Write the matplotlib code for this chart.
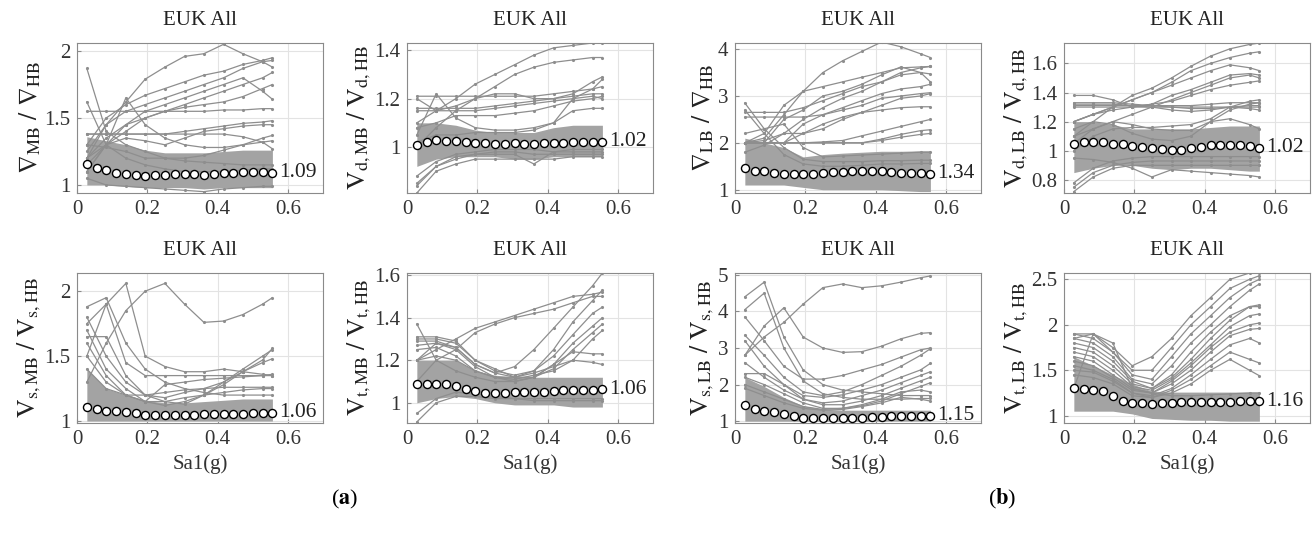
import matplotlib
matplotlib.use("Agg")
import matplotlib.pyplot as plt

plt.rcParams.update({
    "font.family": ["Liberation Serif", "DejaVu Serif"],
    "mathtext.fontset": "stix",
    "font.size": 15,
    "axes.edgecolor": "#8a8a8a",
    "axes.linewidth": 0.8,
    "xtick.color": "#8a8a8a",
    "ytick.color": "#8a8a8a",
    "xtick.labelcolor": "#333333",
    "ytick.labelcolor": "#333333",
})

LINE = "#8e8e8e"
BAND = "#a3a3a3"
GRID = "#e3e3e3"

# Sa1 levels of the median points (g)
SA = [0.028, 0.056, 0.083, 0.111, 0.139, 0.167, 0.194, 0.222, 0.250, 0.278,
      0.306, 0.333, 0.361, 0.389, 0.417, 0.444, 0.472, 0.500, 0.528, 0.556]
# Sa1 levels used for the individual building curves
SA_CURVE = [0.028, 0.083, 0.139, 0.194, 0.250, 0.306, 0.361, 0.417, 0.472, 0.528, 0.556]

# ---- (a) MB / HB ----------------------------------------------------------
nabla_mb_median = [1.155, 1.13, 1.108, 1.09, 1.083, 1.072, 1.068, 1.073, 1.077, 1.081,
                   1.084, 1.082, 1.077, 1.079, 1.086, 1.092, 1.099, 1.097, 1.094, 1.09]
nabla_mb_band_lo = [1.00, 1.00, 0.99, 0.98, 0.98, 0.98, 0.97, 0.98, 0.98, 0.98, 0.98]
nabla_mb_band_hi = [1.36, 1.33, 1.30, 1.26, 1.24, 1.24, 1.24, 1.25, 1.26, 1.26, 1.26]
nabla_mb_curves = [
    [1.20, 1.45, 1.62, 1.79, 1.88, 1.96, 1.98, 2.05, 1.98, 1.92, 1.88],
    [1.87, 1.40, 1.30, 1.25, 1.20, 1.18, 1.17, 1.16, 1.15, 1.15, 1.15],
    [1.55, 1.55, 1.55, 1.55, 1.55, 1.55, 1.55, 1.56, 1.56, 1.57, 1.57],
    [1.30, 1.50, 1.60, 1.67, 1.72, 1.77, 1.82, 1.85, 1.90, 1.93, 1.95],
    [1.25, 1.45, 1.55, 1.60, 1.65, 1.70, 1.75, 1.80, 1.87, 1.92, 1.93],
    [1.10, 1.30, 1.45, 1.55, 1.60, 1.65, 1.70, 1.75, 1.80, 1.70, 1.64],
    [1.20, 1.35, 1.45, 1.50, 1.55, 1.60, 1.65, 1.70, 1.75, 1.80, 1.84],
    [1.15, 1.30, 1.40, 1.50, 1.55, 1.58, 1.60, 1.62, 1.66, 1.72, 1.75],
    [1.10, 1.30, 1.65, 1.45, 1.35, 1.30, 1.28, 1.28, 1.30, 1.32, 1.33],
    [1.38, 1.38, 1.38, 1.38, 1.38, 1.40, 1.42, 1.44, 1.46, 1.47, 1.48],
    [1.20, 1.30, 1.35, 1.33, 1.30, 1.35, 1.40, 1.42, 1.44, 1.45, 1.45],
    [1.38, 1.38, 1.38, 1.38, 1.38, 1.38, 1.38, 1.38, 1.36, 1.32, 1.27],
    [1.30, 1.28, 1.25, 1.20, 1.20, 1.20, 1.22, 1.26, 1.30, 1.35, 1.37],
    [1.62, 1.30, 1.20, 1.15, 1.12, 1.10, 1.10, 1.10, 1.11, 1.12, 1.12],
    [1.05, 1.00, 0.99, 0.98, 0.97, 0.96, 0.95, 0.97, 0.98, 0.99, 0.99],
]

vd_mb_median = [1.007, 1.02, 1.028, 1.025, 1.023, 1.02, 1.017, 1.017, 1.012, 1.012,
                1.015, 1.012, 1.011, 1.015, 1.017, 1.018, 1.019, 1.02, 1.022, 1.022]
vd_mb_band_lo = [0.92, 0.95, 0.96, 0.96, 0.96, 0.95, 0.95, 0.96, 0.96, 0.96, 0.96]
vd_mb_band_hi = [1.10, 1.10, 1.09, 1.07, 1.06, 1.06, 1.06, 1.08, 1.09, 1.09, 1.09]
vd_mb_curves = [
    [1.20, 1.15, 1.20, 1.26, 1.30, 1.34, 1.38, 1.41, 1.42, 1.43, 1.43],
    [1.10, 1.15, 1.17, 1.20, 1.25, 1.30, 1.33, 1.35, 1.36, 1.37, 1.37],
    [1.21, 1.21, 1.21, 1.21, 1.21, 1.21, 1.21, 1.22, 1.23, 1.24, 1.25],
    [1.16, 1.16, 1.16, 1.16, 1.17, 1.18, 1.19, 1.20, 1.21, 1.22, 1.22],
    [1.15, 1.15, 1.15, 1.15, 1.16, 1.17, 1.18, 1.19, 1.20, 1.21, 1.20],
    [1.00, 1.08, 1.15, 1.20, 1.22, 1.22, 1.20, 1.20, 1.22, 1.27, 1.29],
    [1.05, 1.22, 1.12, 1.08, 1.07, 1.07, 1.08, 1.10, 1.20, 1.24, 1.28],
    [1.02, 1.05, 1.05, 1.06, 1.06, 1.06, 1.07, 1.10, 1.15, 1.16, 1.16],
    [1.08, 1.10, 1.13, 1.13, 1.13, 1.14, 1.15, 1.17, 1.19, 1.20, 1.21],
    [0.81, 0.90, 0.93, 0.95, 0.95, 0.95, 0.95, 0.95, 0.96, 0.96, 0.96],
    [0.85, 0.92, 0.95, 0.97, 0.98, 0.98, 0.97, 0.97, 0.97, 0.97, 0.97],
    [0.88, 0.94, 0.97, 0.98, 0.99, 0.99, 0.99, 0.98, 0.98, 0.98, 0.98],
    [0.84, 0.92, 0.96, 0.97, 0.97, 0.97, 0.93, 0.98, 0.99, 0.99, 0.99],
]

vs_mb_median = [1.108, 1.09, 1.08, 1.077, 1.072, 1.06, 1.049, 1.044, 1.044, 1.044,
                1.049, 1.049, 1.052, 1.052, 1.054, 1.054, 1.057, 1.06, 1.062, 1.064]
vs_mb_band_lo = [1.00, 1.00, 1.00, 1.00, 1.00, 1.00, 1.00, 1.00, 1.00, 1.00, 1.00]
vs_mb_band_hi = [1.40, 1.25, 1.20, 1.16, 1.14, 1.14, 1.15, 1.16, 1.17, 1.17, 1.17]
vs_mb_curves = [
    [1.30, 1.60, 1.85, 2.00, 2.06, 1.90, 1.76, 1.77, 1.82, 1.90, 1.95],
    [1.50, 1.90, 2.06, 1.50, 1.42, 1.38, 1.38, 1.40, 1.38, 1.36, 1.35],
    [1.88, 1.95, 1.60, 1.40, 1.30, 1.25, 1.22, 1.20, 1.20, 1.20, 1.20],
    [1.75, 1.90, 1.45, 1.35, 1.35, 1.35, 1.35, 1.35, 1.35, 1.35, 1.36],
    [1.65, 1.65, 1.35, 1.20, 1.18, 1.22, 1.25, 1.30, 1.38, 1.47, 1.56],
    [1.80, 1.50, 1.30, 1.20, 1.15, 1.13, 1.20, 1.30, 1.40, 1.50, 1.55],
    [1.70, 1.40, 1.25, 1.15, 1.12, 1.15, 1.20, 1.28, 1.38, 1.45, 1.48],
    [1.50, 1.30, 1.20, 1.15, 1.28, 1.30, 1.32, 1.33, 1.34, 1.35, 1.35],
    [1.40, 1.25, 1.20, 1.20, 1.22, 1.24, 1.25, 1.26, 1.26, 1.26, 1.26],
    [1.60, 1.35, 1.20, 1.15, 1.15, 1.18, 1.20, 1.22, 1.24, 1.25, 1.25],
]

vt_mb_median = [1.088, 1.09, 1.09, 1.088, 1.078, 1.063, 1.056, 1.048, 1.048, 1.048,
                1.05, 1.05, 1.052, 1.053, 1.055, 1.058, 1.059, 1.061, 1.062, 1.064]
vt_mb_band_lo = [1.00, 1.02, 1.03, 1.02, 1.00, 0.99, 0.99, 0.99, 0.98, 0.98, 0.98]
vt_mb_band_hi = [1.20, 1.20, 1.20, 1.15, 1.13, 1.12, 1.12, 1.12, 1.12, 1.12, 1.12]
vt_mb_curves = [
    [1.20, 1.25, 1.30, 1.35, 1.38, 1.41, 1.44, 1.47, 1.50, 1.51, 1.52],
    [1.10, 1.20, 1.25, 1.33, 1.37, 1.40, 1.42, 1.44, 1.47, 1.50, 1.50],
    [1.20, 1.28, 1.26, 1.18, 1.14, 1.17, 1.25, 1.35, 1.45, 1.55, 1.61],
    [1.31, 1.31, 1.29, 1.20, 1.15, 1.13, 1.15, 1.25, 1.38, 1.48, 1.53],
    [1.30, 1.30, 1.28, 1.20, 1.16, 1.12, 1.15, 1.22, 1.32, 1.42, 1.45],
    [1.29, 1.29, 1.26, 1.18, 1.14, 1.12, 1.12, 1.18, 1.28, 1.36, 1.40],
    [1.27, 1.28, 1.25, 1.17, 1.12, 1.10, 1.12, 1.16, 1.25, 1.33, 1.37],
    [1.25, 1.26, 1.22, 1.15, 1.12, 1.11, 1.13, 1.15, 1.20, 1.30, 1.34],
    [1.37, 1.20, 1.15, 1.12, 1.10, 1.10, 1.12, 1.18, 1.24, 1.23, 1.23],
    [1.20, 1.22, 1.20, 1.15, 1.12, 1.12, 1.14, 1.17, 1.20, 1.19, 1.18],
    [0.91, 1.00, 1.03, 1.03, 1.02, 1.02, 1.02, 1.02, 1.02, 1.02, 1.02],
    [0.95, 1.02, 1.05, 1.04, 1.03, 1.02, 1.01, 1.01, 1.01, 1.01, 1.01],
]

# ---- (b) LB / HB ----------------------------------------------------------
nabla_lb_median = [1.47, 1.40, 1.39, 1.36, 1.34, 1.33, 1.33, 1.34, 1.36, 1.37,
                   1.37, 1.39, 1.39, 1.39, 1.40, 1.38, 1.36, 1.36, 1.35, 1.34]
nabla_lb_band_lo = [1.10, 1.10, 1.10, 1.05, 1.00, 1.00, 1.00, 1.00, 0.98, 0.96, 0.96]
nabla_lb_band_hi = [2.10, 2.00, 1.90, 1.70, 1.75, 1.78, 1.80, 1.82, 1.82, 1.83, 1.83]
nabla_lb_curves = [
    [2.00, 2.20, 2.80, 3.10, 3.50, 3.75, 3.95, 4.15, 4.05, 3.90, 3.82],
    [2.00, 2.10, 2.60, 3.10, 3.20, 3.30, 3.40, 3.50, 3.60, 3.62, 3.63],
    [2.00, 2.00, 2.50, 2.70, 3.00, 3.10, 3.25, 3.45, 3.62, 3.50, 3.30],
    [2.00, 2.05, 2.20, 2.50, 2.75, 2.95, 3.10, 3.30, 3.45, 3.50, 3.47],
    [2.65, 2.65, 2.65, 2.75, 2.90, 3.05, 3.20, 3.30, 3.50, 3.60, 3.63],
    [2.55, 2.55, 2.55, 2.55, 2.60, 2.75, 2.90, 3.05, 3.15, 3.20, 3.25],
    [2.00, 2.00, 2.00, 2.40, 2.60, 2.70, 2.80, 2.95, 3.00, 3.05, 3.07],
    [1.80, 1.95, 2.20, 2.20, 2.30, 2.50, 2.65, 2.80, 2.95, 3.00, 3.05],
    [2.00, 2.00, 2.00, 2.20, 2.40, 2.55, 2.65, 2.70, 2.75, 2.77, 2.77],
    [2.00, 2.00, 2.00, 2.00, 2.02, 2.05, 2.15, 2.25, 2.35, 2.45, 2.50],
    [2.00, 2.00, 2.00, 2.00, 2.00, 2.00, 2.00, 2.08, 2.18, 2.26, 2.28],
    [2.00, 2.00, 2.00, 2.00, 2.00, 2.00, 2.00, 2.05, 2.12, 2.18, 2.20],
    [2.85, 2.30, 1.90, 1.65, 1.60, 1.60, 1.60, 1.62, 1.62, 1.63, 1.63],
    [2.70, 2.20, 1.75, 1.55, 1.50, 1.50, 1.52, 1.55, 1.55, 1.56, 1.56],
    [2.20, 2.30, 2.40, 1.90, 1.70, 1.72, 1.74, 1.76, 1.78, 1.80, 1.80],
]

vd_lb_median = [1.044, 1.062, 1.06, 1.057, 1.048, 1.044, 1.032, 1.023, 1.016, 1.011,
                1.005, 1.007, 1.016, 1.028, 1.037, 1.039, 1.039, 1.037, 1.032, 1.022]
vd_lb_band_lo = [0.85, 0.88, 0.90, 0.90, 0.88, 0.87, 0.88, 0.88, 0.87, 0.86, 0.86]
vd_lb_band_hi = [1.20, 1.20, 1.18, 1.15, 1.15, 1.15, 1.15, 1.16, 1.17, 1.17, 1.17]
vd_lb_curves = [
    [1.20, 1.25, 1.30, 1.38, 1.43, 1.50, 1.58, 1.65, 1.70, 1.73, 1.74],
    [1.20, 1.25, 1.30, 1.35, 1.40, 1.47, 1.55, 1.60, 1.64, 1.67, 1.68],
    [1.10, 1.20, 1.30, 1.35, 1.40, 1.45, 1.50, 1.55, 1.59, 1.57, 1.55],
    [1.38, 1.38, 1.35, 1.30, 1.32, 1.38, 1.42, 1.47, 1.52, 1.53, 1.52],
    [1.10, 1.15, 1.20, 1.25, 1.30, 1.35, 1.40, 1.45, 1.50, 1.52, 1.50],
    [1.20, 1.25, 1.28, 1.30, 1.32, 1.34, 1.38, 1.42, 1.45, 1.47, 1.48],
    [1.33, 1.33, 1.33, 1.32, 1.31, 1.31, 1.31, 1.32, 1.33, 1.33, 1.33],
    [1.30, 1.30, 1.30, 1.30, 1.30, 1.30, 1.30, 1.30, 1.30, 1.31, 1.31],
    [1.32, 1.32, 1.32, 1.31, 1.30, 1.28, 1.27, 1.28, 1.30, 1.29, 1.28],
    [1.31, 1.31, 1.31, 1.31, 1.31, 1.30, 1.29, 1.29, 1.30, 1.30, 1.30],
    [1.00, 1.10, 1.15, 1.16, 1.16, 1.17, 1.18, 1.22, 1.30, 1.34, 1.35],
    [1.05, 1.15, 1.20, 1.18, 1.15, 1.14, 1.14, 1.20, 1.28, 1.32, 1.33],
    [0.72, 0.82, 0.88, 0.90, 0.90, 0.90, 0.90, 0.90, 0.90, 0.90, 0.90],
    [0.75, 0.85, 0.90, 0.92, 0.93, 0.93, 0.93, 0.93, 0.93, 0.93, 0.93],
    [0.78, 0.88, 0.93, 0.95, 0.96, 0.96, 0.96, 0.96, 0.96, 0.96, 0.96],
    [0.95, 0.94, 0.92, 0.88, 0.82, 0.87, 0.86, 0.85, 0.84, 0.83, 0.82],
    [1.15, 1.20, 1.18, 1.12, 1.08, 1.07, 1.10, 1.20, 1.22, 1.18, 1.15],
]

vs_lb_median = [1.435, 1.32, 1.28, 1.25, 1.19, 1.14, 1.09, 1.074, 1.074, 1.074,
                1.083, 1.09, 1.10, 1.11, 1.12, 1.13, 1.14, 1.14, 1.146, 1.15]
vs_lb_band_lo = [1.00, 1.00, 1.00, 1.00, 1.00, 1.00, 1.00, 1.00, 1.00, 1.00, 1.00]
vs_lb_band_hi = [2.20, 1.95, 1.65, 1.42, 1.33, 1.30, 1.30, 1.30, 1.30, 1.30, 1.30]
vs_lb_curves = [
    [2.80, 3.30, 3.70, 4.20, 4.65, 4.75, 4.65, 4.70, 4.80, 4.92, 4.97],
    [4.40, 4.80, 3.30, 2.40, 2.00, 1.85, 1.80, 1.75, 1.70, 1.70, 1.70],
    [4.05, 4.50, 3.00, 2.10, 1.75, 1.65, 1.60, 1.60, 1.60, 1.62, 1.62],
    [2.80, 3.60, 4.10, 3.30, 3.00, 2.88, 2.90, 3.05, 3.25, 3.40, 3.42],
    [3.85, 3.20, 2.50, 2.15, 2.15, 2.25, 2.40, 2.55, 2.75, 2.95, 3.00],
    [3.35, 2.80, 2.20, 1.80, 1.70, 1.80, 2.00, 2.25, 2.50, 2.80, 2.98],
    [3.20, 2.50, 2.00, 1.70, 1.65, 1.72, 1.85, 2.00, 2.20, 2.40, 2.58],
    [2.60, 2.20, 1.85, 1.60, 1.50, 1.55, 1.70, 1.85, 2.05, 2.25, 2.35],
    [2.30, 2.30, 2.00, 1.60, 1.45, 1.45, 1.55, 1.70, 1.90, 2.10, 2.20],
    [2.20, 2.00, 1.75, 1.50, 1.35, 1.35, 1.42, 1.55, 1.75, 1.95, 2.05],
    [2.00, 1.80, 1.60, 1.40, 1.32, 1.35, 1.45, 1.60, 1.80, 1.85, 1.80],
    [1.90, 1.70, 1.50, 1.35, 1.30, 1.32, 1.40, 1.50, 1.65, 1.60, 1.55],
]

vt_lb_median = [1.30, 1.292, 1.28, 1.27, 1.22, 1.16, 1.142, 1.135, 1.128, 1.135,
                1.142, 1.146, 1.15, 1.153, 1.153, 1.153, 1.153, 1.157, 1.157, 1.158]
vt_lb_band_lo = [1.05, 1.05, 1.05, 1.02, 0.97, 0.96, 0.95, 0.95, 0.94, 0.94, 0.94]
vt_lb_band_hi = [1.65, 1.55, 1.45, 1.35, 1.27, 1.26, 1.26, 1.26, 1.26, 1.26, 1.26]
vt_lb_curves = [
    [1.90, 1.90, 1.75, 1.55, 1.65, 1.85, 2.10, 2.30, 2.50, 2.57, 2.57],
    [1.90, 1.85, 1.70, 1.50, 1.50, 1.75, 2.00, 2.20, 2.40, 2.50, 2.54],
    [1.85, 1.90, 1.70, 1.45, 1.40, 1.65, 1.90, 2.10, 2.30, 2.45, 2.50],
    [1.85, 1.80, 1.65, 1.40, 1.35, 1.55, 1.80, 2.00, 2.20, 2.38, 2.45],
    [1.80, 1.75, 1.60, 1.38, 1.30, 1.45, 1.70, 1.92, 2.10, 2.20, 2.22],
    [1.75, 1.70, 1.55, 1.35, 1.30, 1.42, 1.62, 1.85, 2.05, 2.20, 2.20],
    [1.70, 1.65, 1.50, 1.32, 1.28, 1.40, 1.58, 1.78, 1.98, 2.10, 2.12],
    [1.65, 1.60, 1.45, 1.30, 1.25, 1.38, 1.55, 1.75, 1.92, 2.00, 2.02],
    [1.60, 1.55, 1.42, 1.28, 1.25, 1.35, 1.50, 1.70, 1.88, 1.95, 1.96],
    [1.55, 1.50, 1.40, 1.25, 1.22, 1.30, 1.45, 1.62, 1.78, 1.85, 1.80],
    [1.50, 1.48, 1.38, 1.25, 1.20, 1.28, 1.40, 1.55, 1.70, 1.62, 1.58],
    [1.45, 1.42, 1.35, 1.22, 1.20, 1.25, 1.35, 1.50, 1.62, 1.50, 1.44],
    [1.30, 1.90, 1.80, 1.30, 1.25, 1.22, 1.22, 1.23, 1.24, 1.25, 1.25],
]

NABLA_MB_LABEL = r"$\nabla_{\rm MB}\ /\ \nabla_{\rm HB}$"
VD_MB_LABEL = r"$\mathrm{V}_{\rm d,MB}\ /\ \mathrm{V}_{\rm d,HB}$"
VS_MB_LABEL = r"$\mathrm{V}_{\rm s,MB}\ /\ \mathrm{V}_{\rm s,HB}$"
VT_MB_LABEL = r"$\mathrm{V}_{\rm t,MB}\ /\ \mathrm{V}_{\rm t,HB}$"
NABLA_LB_LABEL = r"$\nabla_{\rm LB}\ /\ \nabla_{\rm HB}$"
VD_LB_LABEL = r"$\mathrm{V}_{\rm d,LB}\ /\ \mathrm{V}_{\rm d,HB}$"
VS_LB_LABEL = r"$\mathrm{V}_{\rm s,LB}\ /\ \mathrm{V}_{\rm s,HB}$"
VT_LB_LABEL = r"$\mathrm{V}_{\rm t,LB}\ /\ \mathrm{V}_{\rm t,HB}$"


def draw_panel(ax, median, band_lo, band_hi, curves, ylabel, ylim, yticks, xlabel=False):
    ax.fill_between(SA_CURVE, band_lo, band_hi, color=BAND, lw=0, zorder=1)
    for c in curves:
        ax.plot(SA_CURVE, c, color=LINE, lw=0.9, marker=".", ms=2.5, zorder=2)
    ax.plot(SA, median, ls="none", marker="o", ms=5.8, mfc="white", mec="black",
            mew=1.0, zorder=4)
    ax.annotate(f"{median[-1]:.2f}", (SA[-1], median[-1]), xytext=(5, 0),
                textcoords="offset points", ha="left", va="center",
                fontsize=15.5, color="#222222", zorder=5, annotation_clip=False)
    ax.set_xlim(0, 0.7)
    ax.set_xticks([0, 0.2, 0.4, 0.6])
    ax.set_xticklabels(["0", "0.2", "0.4", "0.6"])
    ax.set_ylim(*ylim)
    ax.set_yticks(yticks)
    ax.set_yticklabels([f"{t:g}" for t in yticks])
    ax.tick_params(direction="in", length=3, labelsize=15, pad=5)
    ax.grid(True, color=GRID, lw=0.8)
    ax.set_axisbelow(True)
    ax.set_title("EUK All", fontsize=15, color="#222222", pad=13)
    ax.set_ylabel(ylabel, fontsize=18.5, color="#222222", labelpad=1)
    if xlabel:
        ax.set_xlabel("Sa1(g)", fontsize=15, color="#333333", labelpad=4)


fig = plt.figure(figsize=(13.14, 5.41), dpi=100)
W, H = 246 / 1314, 150 / 541
lefts = [77 / 1314, 407 / 1314, 735 / 1314, 1064 / 1314]
top_bottom = (541 - 193) / 541
low_bottom = (541 - 423) / 541

panels = [
    (lefts[0], top_bottom, nabla_mb_median, nabla_mb_band_lo, nabla_mb_band_hi, nabla_mb_curves,
     NABLA_MB_LABEL, (0.94, 2.06), [1, 1.5, 2], False),
    (lefts[1], top_bottom, vd_mb_median, vd_mb_band_lo, vd_mb_band_hi, vd_mb_curves,
     VD_MB_LABEL, (0.81, 1.43), [1, 1.2, 1.4], False),
    (lefts[2], top_bottom, nabla_lb_median, nabla_lb_band_lo, nabla_lb_band_hi, nabla_lb_curves,
     NABLA_LB_LABEL, (0.93, 4.13), [1, 2, 3, 4], False),
    (lefts[3], top_bottom, vd_lb_median, vd_lb_band_lo, vd_lb_band_hi, vd_lb_curves,
     VD_LB_LABEL, (0.71, 1.74), [0.8, 1, 1.2, 1.4, 1.6], False),
    (lefts[0], low_bottom, vs_mb_median, vs_mb_band_lo, vs_mb_band_hi, vs_mb_curves,
     VS_MB_LABEL, (0.985, 2.14), [1, 1.5, 2], True),
    (lefts[1], low_bottom, vt_mb_median, vt_mb_band_lo, vt_mb_band_hi, vt_mb_curves,
     VT_MB_LABEL, (0.905, 1.61), [1, 1.2, 1.4, 1.6], True),
    (lefts[2], low_bottom, vs_lb_median, vs_lb_band_lo, vs_lb_band_hi, vs_lb_curves,
     VS_LB_LABEL, (0.95, 5.05), [1, 2, 3, 4, 5], True),
    (lefts[3], low_bottom, vt_lb_median, vt_lb_band_lo, vt_lb_band_hi, vt_lb_curves,
     VT_LB_LABEL, (0.92, 2.57), [1, 1.5, 2, 2.5], True),
]

for left, bottom, med, lo, hi, curves, ylab, ylim, yt, xl in panels:
    ax = fig.add_axes([left, bottom, W, H])
    draw_panel(ax, med, lo, hi, curves, ylab, ylim, yt, xlabel=xl)

fig.text(345 / 1314, 1 - 499 / 541, r"($\mathbf{a}$)", ha="center", va="center", fontsize=16)
fig.text(1002 / 1314, 1 - 499 / 541, r"($\mathbf{b}$)", ha="center", va="center", fontsize=16)

fig.savefig("out.png", dpi=100)
